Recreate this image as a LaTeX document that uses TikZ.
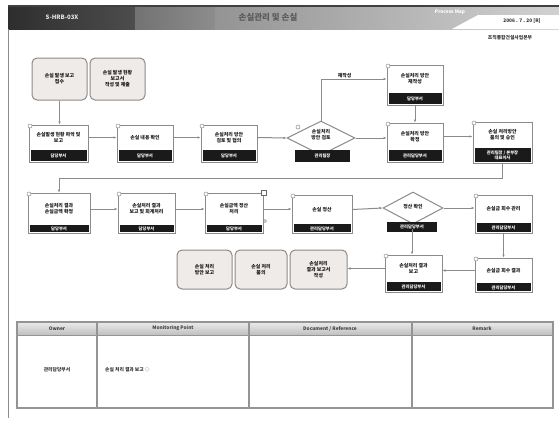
\documentclass[tikz,border=0pt]{standalone}
\usepackage{fontspec}
\setmainfont{Noto Sans CJK KR}
\usetikzlibrary{shapes.geometric,fit,arrows.meta,calc}
\definecolor{linegray}{HTML}{8E8A88}
\definecolor{docfill}{HTML}{EEEBE8}
\definecolor{bandcol}{HTML}{1A1A1A}
\tikzset{
  boxsty/.style={draw=linegray, line width=1pt, fill=white, inner sep=0pt},
  docsty/.style={draw=linegray, line width=1pt, fill=docfill, rounded corners=5pt, inner sep=0pt},
  dia/.style={diamond, draw=linegray, line width=1pt, fill=white, inner sep=0pt, aspect=2},
  boxtext/.style={font=\fontsize{4.9}{6}\selectfont\bfseries, align=center, inner sep=0pt, text=black!90},
  bandtext/.style={font=\fontsize{4.3}{5}\selectfont\bfseries, align=center, inner sep=0pt, text=white},
  bandfill/.style={fill=bandcol},
  marker/.style={circle, draw=linegray, fill=white, line width=0.5pt, minimum size=4pt, inner sep=0pt},
  conn/.style={draw=linegray, line width=1pt},
  arr/.style={conn, -{Latex[length=3pt,width=2.6pt]}},
  hdr/.style={font=\fontsize{4.8}{5.5}\selectfont\bfseries, inner sep=0pt, text=black!75},
  celltext/.style={font=\fontsize{4.8}{5.6}\selectfont\bfseries, inner sep=0pt, text=black!80},
}
\newcommand\pbox[8]{%
  \node[boxsty, fit={(#2,#3) (#4,#5)}] (#1) {};
  \fill[bandfill] (#2+1.5,#6) rectangle (#4-1.5,#5-1.5);
  \node[boxtext] (#1t) at ({(#2+#4)/2},{(#3+#6)/2}) {#7};
  \node[bandtext] (#1b) at ({(#2+#4)/2},{(#6+#5)/2}) {#8};
  \node[marker] (#1m) at (#2+1,#3+1) {};
}
\newcommand\dbox[6]{%
  \node[docsty, fit={(#2,#3) (#4,#5)}] (#1) {};
  \node[boxtext] (#1t) at ({(#2+#4)/2},{(#3+#5)/2}) {#6};
}
\begin{document}
\begin{tikzpicture}[x=1pt,y=-1pt]
\useasboundingbox (0,0) rectangle (559,421);
\fill[white] (0,0) rectangle (559,421);
% header bar
\shade[left color=black!82, right color=black!70] (8,6) rectangle (135,29);
\shade[left color=black!55, right color=black!45] (135,6) rectangle (215,29);
\shade[left color=black!42, right color=black!18] (215,6) rectangle (559,29);
\fill[white] (452,29) -- (478,15) -- (559,15) -- (559,29) -- cycle;
\fill[black!75] (8,5) rectangle (559,7);
\node[font=\fontsize{6}{7}\selectfont\bfseries, text=white!90!black, inner sep=0pt] (code) at (62,17) {S-HRB-03X};
\node[font=\fontsize{8.5}{9}\selectfont\bfseries, text=black!65, inner sep=0pt] (title) at (268,17) {손실관리 및 손실};
\node[font=\fontsize{4.8}{5}\selectfont\bfseries, text=white, inner sep=0pt] (pm) at (450,12) {Process Map};
\node[font=\fontsize{4.8}{5}\selectfont\bfseries, text=black!80, inner sep=0pt] (date) at (522,21) {2006 . 7 . 20 [R]};
\node[font=\fontsize{4.8}{5}\selectfont\bfseries, text=black!80, inner sep=0pt] (org) at (510,38) {조직통합건설사업본부};
% left frame line
\draw[draw=black!45, line width=1pt] (8,29) -- (8,418);

% document boxes top
\dbox{d1}{32}{58}{87}{100}{손실 발생 보고\\접수}
\dbox{d2}{90}{58}{145}{100}{손실 발생 현황\\보고서\\작성 및 제출}

% row 1
\pbox{b1}{29}{125}{88}{162}{150}{손실발생 현황 파악 및\\보고}{담당부서}
\pbox{b2}{117}{125}{173}{162}{150}{손실 내용 확인}{담당부서}
\pbox{b3}{201}{125}{257}{162}{150}{손실처리 방안\\검토 및 협의}{담당부서}
\node[dia, minimum width=68pt, minimum height=34pt] (dm1) at (321,138) {};
\node[boxtext] (dm1t) at (321,135) {손실처리\\방안 검토};
\fill[bandfill] (295,150) rectangle (350,162);
\node[bandtext] (dm1b) at (322.5,156) {관리팀장};
\node[marker] (dm1m) at (298,127) {};
\pbox{b4}{387}{65}{443}{105}{93}{손실처리 방안\\재작성}{담당부서}
\pbox{b5}{387}{123}{443}{162}{150}{손실처리 방안\\확정}{관리담당부서}
\pbox{b6}{473}{122}{532}{163}{148}{손실 처리방안\\품의 및 승인}{관리팀장 / 본부장\\대표이사}

% row 2
\pbox{r2a}{28}{193}{90}{233}{225}{손실처리 결과\\손실금액 확정}{담당부서}
\pbox{r2b}{118}{193}{175}{233}{225}{손실처리 결과\\보고 및 회계처리}{담당부서}
\pbox{r2c}{205}{193}{263}{233}{225}{손실금액 정산\\처리}{담당부서}
\node[draw=black!60, fill=white, line width=0.6pt, minimum size=4.5pt, inner sep=0pt] (r2cs) at (264,193) {};
\node[marker, minimum size=3pt] (r2cc) at (265,221) {};
\pbox{r2d}{292}{195}{352}{233}{224}{손실 정산}{관리담당부서}
\node[dia, minimum width=60pt, minimum height=32pt] (dm2) at (413,208) {};
\node[boxtext] (dm2t) at (413,207) {정산 확인};
\fill[bandfill] (387,222) rectangle (437,232);
\node[bandtext] (dm2b) at (412,227) {관리담당부서};
\pbox{r2e}{475}{195}{532}{233}{223}{손실금 회수 관리}{관리담당부서}

% row 3
\pbox{r3f}{475}{258}{532}{292}{283}{손실금 회수 결과}{관리담당부서}
\pbox{r3g}{385}{255}{442}{292}{282}{손실처리 결과\\보고}{관리담당부서}
\dbox{d3a}{177}{250}{232}{289}{손실 처리\\방안 보고}
\dbox{d3b}{235}{250}{287}{289}{손실 처리\\품의}
\dbox{d3c}{290}{250}{347}{289}{손실처리\\결과 보고서\\작성}

% connectors
\draw[arr] (d1.south) -- (d1.south |- b1.north);
\draw[arr] (b1t.center -| b1.east) -- (b1t.center -| b2.west);
\draw[arr] (b2t.center -| b2.east) -- (b2t.center -| b3.west);
\draw[arr] (b3t.center -| b3.east) -- (dm1.west);
\draw[arr] (dm1.east) -- (dm1.east -| b5.west);
\draw[arr] (dm1.north) |- (b4t.center -| b4.west) node[pos=0.68, above=1pt, boxtext] (lbl) {재작성};
\draw[arr] (b4.south) -- (b5.north);
\draw[arr] (b5t.center -| b5.east) -- (b5t.center -| b6.west);
\draw[arr] (b6.south) -- ++(0,15) -| (r2a.north);
\draw[arr] (r2at.center -| r2a.east) -- (r2at.center -| r2b.west);
\draw[arr] (r2bt.center -| r2b.east) -- (r2bt.center -| r2c.west);
\draw[arr] (r2ct.center -| r2c.east) -- (r2ct.center -| r2d.west);
\draw[arr] (r2dt.center -| r2d.east) -- (dm2.west);
\draw[arr] (dm2.east) -- (dm2.east -| r2e.west);
\draw[arr] (r2e.south) -- (r2e.south |- r3f.north);
\draw[arr] (r3ft.center -| r3f.west) -- (r3ft.center -| r3g.east);
\draw[arr] (dm2b.south) -- (dm2b.south |- r3g.north);
\draw[arr] (r3gt.center -| r3g.west) -- (r3gt.center -| d3c.east);

% table
\shade[top color=black!8, bottom color=black!25] (17,322) rectangle (553,335);
\draw[draw=black!42, line width=1.1pt] (17,322) rectangle (553,408);
\draw[draw=black!42, line width=0.8pt] (17,335) -- (553,335);
\foreach \cx in {97,249,412} \draw[draw=black!42, line width=1.1pt] (\cx,322) -- (\cx,408);
\node[hdr] (h1) at (57,328.5) {Owner};
\node[hdr] (h2) at (173,328.5) {Monitoring Point};
\node[hdr] (h3) at (330,328.5) {Document / Reference};
\node[hdr] (h4) at (482,328.5) {Remark};
\node[celltext] (c1) at (57,370) {관리담당부서};
\node[celltext, anchor=west] (c2) at (105,370) {손실 처리 결과 보고 \textcolor{black!55}{◇}};
\end{tikzpicture}
\end{document}
